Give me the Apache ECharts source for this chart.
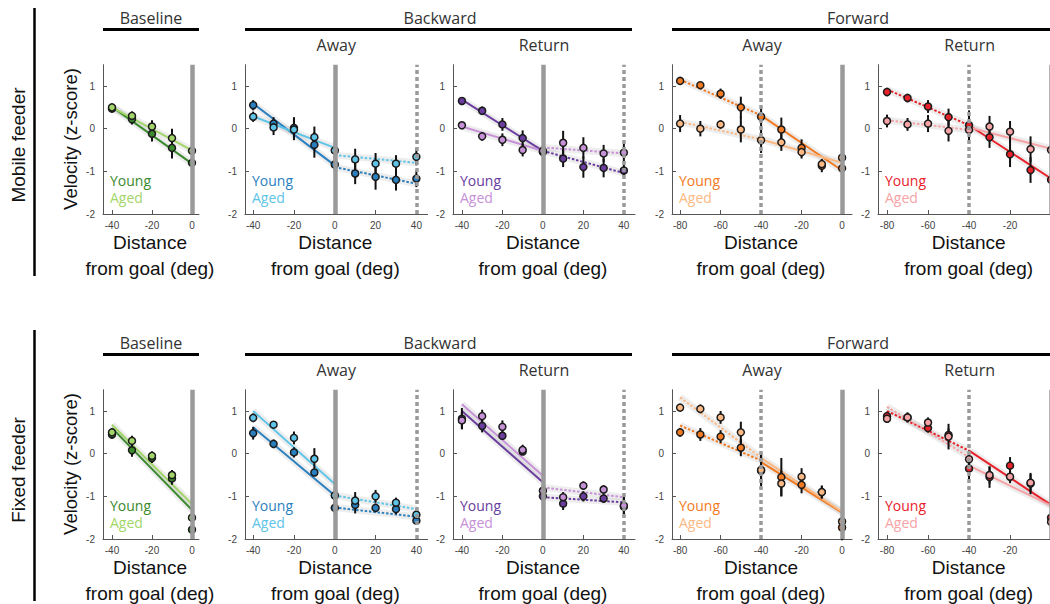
<!DOCTYPE html>
<html>
<head>
<meta charset="utf-8">
<script src="https://cdn.jsdelivr.net/npm/echarts@6/dist/echarts.min.js"></script>
<style>
  html, body { margin: 0; padding: 0; background: #fff; }
  #chart { width: 1050px; height: 604px; }
</style>
</head>
<body>
<div id="chart"></div>
<script>
// ---- sampling distances (deg from goal) ----
const xBaseline = [-40, -30, -20, -10, 0];
const xBackward = [-40, -30, -20, -10, 0, 10, 20, 30, 40];
const xForward = [-80, -70, -60, -50, -40, -30, -20, -10, 0];

// breakpoints of the piecewise regression fits
const fitXBaseline = [-40, 0];
const fitXBackward = [-40, 0, 0, 40];
const fitXForward = [-80, -40, -40, 0];

// tick labels
const tickBaseline = [-40, -20, 0];
const tickBackward = [-40, -20, 0, 20, 40];
const tickForward = [-80, -60, -40, -20, 0];
const tickForwardEdge = [-80, -60, -40, -20];
const tickVelocity = [-2, -1, 0, 1];

// ---- Mobile feeder: velocity (z-score), mean and error ----
const mobBaseYoung = [0.47, 0.22, -0.12, -0.45, -0.8];
const mobBaseYoungErr = [0.07, 0.12, 0.18, 0.25, 0.2];
const mobBaseAged = [0.5, 0.3, 0.05, -0.22, -0.52];
const mobBaseAgedErr = [0.05, 0.1, 0.15, 0.22, 0.2];
const mobBaseFitYoung = [0.51, -0.82];
const mobBaseFitAged = [0.5, -0.51];

const mobBackAwayYoung = [0.55, 0.12, 0.02, -0.38, -0.84, -1.05, -1.13, -1.2, -1.17];
const mobBackAwayYoungErr = [0.12, 0.15, 0.25, 0.3, 0.18, 0.25, 0.3, 0.25, 0.2];
const mobBackAwayAged = [0.28, 0.03, -0.02, -0.2, -0.51, -0.72, -0.82, -0.82, -0.66];
const mobBackAwayAgedErr = [0.12, 0.18, 0.25, 0.25, 0.2, 0.25, 0.25, 0.2, 0.2];
const mobBackAwayFitYoung = [0.59, -0.86, -0.9, -1.29];
const mobBackAwayFitAged = [0.29, -0.45, -0.62, -0.8];

const mobBackRetYoung = [0.65, 0.42, 0.1, -0.22, -0.55, -0.7, -0.9, -0.92, -0.98];
const mobBackRetYoungErr = [0.05, 0.1, 0.15, 0.18, 0.12, 0.2, 0.25, 0.22, 0.2];
const mobBackRetAged = [0.08, -0.18, -0.26, -0.5, -0.52, -0.33, -0.45, -0.58, -0.56];
const mobBackRetAgedErr = [0.08, 0.1, 0.15, 0.15, 0.12, 0.28, 0.25, 0.2, 0.25];
const mobBackRetFitYoung = [0.68, -0.52, -0.52, -1.04];
const mobBackRetFitAged = [0.05, -0.52, -0.44, -0.58];

const mobFwdAwayYoung = [1.12, 1.02, 0.82, 0.5, 0.28, -0.02, -0.45, -0.87, -0.93];
const mobFwdAwayYoungErr = [0.08, 0.08, 0.12, 0.25, 0.25, 0.28, 0.2, 0.15, 0.2];
const mobFwdAwayAged = [0.12, 0.0, 0.1, -0.02, -0.27, -0.32, -0.55, -0.83, -0.68];
const mobFwdAwayAgedErr = [0.2, 0.18, 0.1, 0.3, 0.3, 0.2, 0.15, 0.12, 0.22];
const mobFwdAwayFitYoung = [1.15, 0.31, 0.31, -0.98];
const mobFwdAwayFitAged = [0.16, -0.25, -0.25, -0.8];

const mobFwdRetYoung = [0.86, 0.72, 0.52, 0.27, 0.08, -0.2, -0.6, -0.97, -1.2];
const mobFwdRetYoungErr = [0.1, 0.1, 0.15, 0.2, 0.35, 0.25, 0.3, 0.3, 0.25];
const mobFwdRetAged = [0.18, 0.1, 0.12, -0.05, -0.03, 0.05, -0.07, -0.48, -0.5];
const mobFwdRetAgedErr = [0.15, 0.15, 0.2, 0.25, 0.3, 0.25, 0.25, 0.3, 0.25];
const mobFwdRetFitYoung = [0.92, 0.08, 0.08, -1.17];
const mobFwdRetFitAged = [0.2, -0.03, 0.03, -0.47];

// ---- Fixed feeder ----
const fixBaseYoung = [0.45, 0.08, -0.1, -0.58, -1.78];
const fixBaseYoungErr = [0.1, 0.15, 0.12, 0.15, 0.2];
const fixBaseAged = [0.5, 0.3, -0.05, -0.5, -1.5];
const fixBaseAgedErr = [0.1, 0.12, 0.1, 0.12, 0.15];
const fixBaseFitYoung = [0.6, -1.32];
const fixBaseFitAged = [0.68, -1.18];

const fixBackAwayYoung = [0.48, 0.23, 0.03, -0.44, -1.27, -1.2, -1.27, -1.3, -1.57];
const fixBackAwayYoungErr = [0.15, 0.1, 0.12, 0.08, 0.15, 0.2, 0.1, 0.12, 0.1];
const fixBackAwayAged = [0.84, 0.68, 0.37, -0.12, -0.98, -1.1, -1.0, -1.15, -1.43];
const fixBackAwayAgedErr = [0.1, 0.08, 0.15, 0.25, 0.2, 0.2, 0.15, 0.12, 0.12];
const fixBackAwayFitYoung = [0.62, -0.98, -1.26, -1.48];
const fixBackAwayFitAged = [1.0, -0.71, -0.98, -1.3];

const fixBackRetYoung = [0.82, 0.65, 0.42, 0.05, -1.0, -1.17, -1.0, -1.05, -1.24];
const fixBackRetYoungErr = [0.25, 0.15, 0.1, 0.08, 0.25, 0.15, 0.12, 0.1, 0.25];
const fixBackRetAged = [0.78, 0.88, 0.63, 0.09, -0.87, -1.02, -0.75, -0.84, -1.22];
const fixBackRetAgedErr = [0.2, 0.15, 0.15, 0.12, 0.15, 0.12, 0.1, 0.1, 0.2];
const fixBackRetFitYoung = [1.0, -0.67, -1.02, -1.14];
const fixBackRetFitAged = [1.16, -0.52, -0.79, -1.02];

const fixFwdAwayYoung = [0.5, 0.45, 0.4, 0.14, -0.4, -0.55, -0.73, -0.9, -1.73];
const fixFwdAwayYoungErr = [0.1, 0.15, 0.15, 0.2, 0.45, 0.45, 0.2, 0.15, 0.3];
const fixFwdAwayAged = [1.08, 1.05, 0.85, 0.5, -0.38, -0.7, -0.54, -0.9, -1.59];
const fixFwdAwayAgedErr = [0.08, 0.1, 0.15, 0.25, 0.35, 0.3, 0.2, 0.15, 0.3];
const fixFwdAwayFitYoung = [0.66, -0.16, -0.2, -1.38];
const fixFwdAwayFitAged = [1.32, -0.09, -0.1, -1.36];

const fixFwdRetYoung = [0.88, 0.85, 0.6, 0.44, -0.35, -0.55, -0.28, -0.7, -1.5];
const fixFwdRetYoungErr = [0.1, 0.12, 0.1, 0.15, 0.3, 0.25, 0.2, 0.25, 0.2];
const fixFwdRetAged = [0.82, 0.85, 0.73, 0.4, -0.13, -0.5, -0.54, -0.68, -1.6];
const fixFwdRetAgedErr = [0.1, 0.1, 0.12, 0.3, 0.2, 0.2, 0.15, 0.2, 0.2];
const fixFwdRetFitYoung = [1.0, 0.07, 0.07, -1.2];
const fixFwdRetFitAged = [1.1, -0.08, -0.28, -1.22];

// ---- colours per condition ----
const palBaseline = { young: '#3b8a2e', aged: '#a3d66a' };
const palBackAway = { young: '#2a7fbf', aged: '#5ec4e8' };
const palBackRet = { young: '#6a3d9e', aged: '#c791d8' };
const palFwdAway = { young: '#f27a22', aged: '#fbb985' };
const palFwdRet = { young: '#e8222a', aged: '#f6a3a6' };

// ---- layout ----
const FONT_SANS = '"Liberation Sans", Arial, sans-serif';
const FONT_TITLE = '"Open Sans", "Noto Sans", sans-serif';

const columns = [
  { left: 103, width: 96, min: -44.5, max: 3.5 },
  { left: 245, width: 182.6, min: -44, max: 45.5 },
  { left: 453, width: 182, min: -44.4, max: 45.5 },
  { left: 672, width: 180, min: -84, max: 4.9 },
  { left: 878, width: 183.3, min: -84.4, max: 5 }
];
const rows = [
  { top: 64.7, height: 149.3, offset: 0 },
  { top: 389.7, height: 149.3, offset: 325 }
];

const kinds = {
  baseline: { x: xBaseline, fitX: fitXBaseline, ticks: tickBaseline,
              segs: [[0, 1, 'solid']], refs: [[0, 'solid']] },
  backward: { x: xBackward, fitX: fitXBackward, ticks: tickBackward,
              segs: [[0, 1, 'solid'], [2, 3, 'dotted']], refs: [[0, 'solid'], [40, 'dashed']] },
  forward:  { x: xForward, fitX: fitXForward, ticks: tickForward,
              segs: [[0, 1, 'dotted'], [2, 3, 'solid']], refs: [[-40, 'dashed'], [0, 'solid']] }
};

const panels = [
  { row: 0, col: 0, kind: 'baseline', pal: palBaseline,
    young: mobBaseYoung, youngErr: mobBaseYoungErr, aged: mobBaseAged, agedErr: mobBaseAgedErr,
    fitYoung: mobBaseFitYoung, fitAged: mobBaseFitAged },
  { row: 0, col: 1, kind: 'backward', pal: palBackAway,
    young: mobBackAwayYoung, youngErr: mobBackAwayYoungErr, aged: mobBackAwayAged, agedErr: mobBackAwayAgedErr,
    fitYoung: mobBackAwayFitYoung, fitAged: mobBackAwayFitAged },
  { row: 0, col: 2, kind: 'backward', pal: palBackRet,
    young: mobBackRetYoung, youngErr: mobBackRetYoungErr, aged: mobBackRetAged, agedErr: mobBackRetAgedErr,
    fitYoung: mobBackRetFitYoung, fitAged: mobBackRetFitAged },
  { row: 0, col: 3, kind: 'forward', pal: palFwdAway,
    young: mobFwdAwayYoung, youngErr: mobFwdAwayYoungErr, aged: mobFwdAwayAged, agedErr: mobFwdAwayAgedErr,
    fitYoung: mobFwdAwayFitYoung, fitAged: mobFwdAwayFitAged },
  { row: 0, col: 4, kind: 'forward', pal: palFwdRet, labels: tickForwardEdge,
    young: mobFwdRetYoung, youngErr: mobFwdRetYoungErr, aged: mobFwdRetAged, agedErr: mobFwdRetAgedErr,
    fitYoung: mobFwdRetFitYoung, fitAged: mobFwdRetFitAged },
  { row: 1, col: 0, kind: 'baseline', pal: palBaseline,
    young: fixBaseYoung, youngErr: fixBaseYoungErr, aged: fixBaseAged, agedErr: fixBaseAgedErr,
    fitYoung: fixBaseFitYoung, fitAged: fixBaseFitAged },
  { row: 1, col: 1, kind: 'backward', pal: palBackAway,
    young: fixBackAwayYoung, youngErr: fixBackAwayYoungErr, aged: fixBackAwayAged, agedErr: fixBackAwayAgedErr,
    fitYoung: fixBackAwayFitYoung, fitAged: fixBackAwayFitAged },
  { row: 1, col: 2, kind: 'backward', pal: palBackRet,
    young: fixBackRetYoung, youngErr: fixBackRetYoungErr, aged: fixBackRetAged, agedErr: fixBackRetAgedErr,
    fitYoung: fixBackRetFitYoung, fitAged: fixBackRetFitAged },
  { row: 1, col: 3, kind: 'forward', pal: palFwdAway,
    young: fixFwdAwayYoung, youngErr: fixFwdAwayYoungErr, aged: fixFwdAwayAged, agedErr: fixFwdAwayAgedErr,
    fitYoung: fixFwdAwayFitYoung, fitAged: fixFwdAwayFitAged },
  { row: 1, col: 4, kind: 'forward', pal: palFwdRet, labels: tickForwardEdge,
    young: fixFwdRetYoung, youngErr: fixFwdRetYoungErr, aged: fixFwdRetAged, agedErr: fixFwdRetAgedErr,
    fitYoung: fixFwdRetFitYoung, fitAged: fixFwdRetFitAged }
];

const grid = [], xAxis = [], yAxis = [], series = [], graphic = [];

const axisLineStyle = { color: '#555', width: 1 };

panels.forEach((p, i) => {
  const k = kinds[p.kind];
  const c = columns[p.col];
  const r = rows[p.row];
  grid.push({ left: c.left, width: c.width, top: r.top, height: r.height,
              containLabel: false, outerBoundsMode: 'none' });
  xAxis.push({
    type: 'value', gridIndex: i, min: c.min, max: c.max,
    splitLine: { show: false },
    axisLine: { onZero: false, lineStyle: axisLineStyle },
    axisTick: { inside: true, length: 4, customValues: k.ticks, lineStyle: axisLineStyle },
    axisLabel: { customValues: p.labels || k.ticks, fontSize: 10, color: '#444',
                 fontFamily: FONT_SANS, margin: 6 }
  });
  yAxis.push({
    type: 'value', gridIndex: i, min: -2, max: 1.5,
    splitLine: { show: false },
    axisLine: { show: true, onZero: false, lineStyle: axisLineStyle },
    axisTick: { show: true, inside: true, length: 4, customValues: tickVelocity, lineStyle: axisLineStyle },
    axisLabel: { customValues: tickVelocity, fontSize: 10, color: '#444', fontFamily: FONT_SANS, margin: 8 }
  });

  // reference lines (goal / turn-around positions)
  const refData = k.refs.map(([xv, style]) => ({
    xAxis: xv,
    lineStyle: style === 'solid'
      ? { color: '#9a9a9a', width: 4.5, type: 'solid' }
      : { color: '#9a9a9a', width: 3.5, type: [4, 3] }
  }));

  const groups = [
    { name: 'Young', mean: p.young, err: p.youngErr, fit: p.fitYoung, color: p.pal.young },
    { name: 'Aged', mean: p.aged, err: p.agedErr, fit: p.fitAged, color: p.pal.aged }
  ];

  groups.forEach((g, gi) => {
    k.segs.forEach(([a, b, style], si) => {
      const segData = [[k.fitX[a], g.fit[a]], [k.fitX[b], g.fit[b]]];
      // confidence band
      const band = {
        type: 'line', xAxisIndex: i, yAxisIndex: i, z: 1, silent: true, animation: false,
        symbol: 'none', data: segData,
        lineStyle: { color: 'rgba(140,140,140,0.16)', width: 7 }
      };
      if (gi === 0 && si === 0) {
        band.markLine = { silent: true, animation: false, symbol: ['none', 'none'],
                          label: { show: false }, data: refData };
      }
      series.push(band);
      // fitted line
      series.push({
        type: 'line', xAxisIndex: i, yAxisIndex: i, z: 2, silent: true, animation: false,
        symbol: 'none', data: segData,
        lineStyle: { color: g.color, width: 2, type: style === 'solid' ? 'solid' : [2.5, 1.8] }
      });
    });

    // error bars
    series.push({
      type: 'custom', xAxisIndex: i, yAxisIndex: i, z: 3, silent: true, animation: false,
      data: k.x.map((xv, j) => [xv, g.mean[j] - g.err[j], g.mean[j] + g.err[j]]),
      encode: { x: 0, y: [1, 2] },
      renderItem: (params, api) => {
        const lo = api.coord([api.value(0), api.value(1)]);
        const hi = api.coord([api.value(0), api.value(2)]);
        return { type: 'line', shape: { x1: lo[0], y1: lo[1], x2: hi[0], y2: hi[1] },
                 style: { stroke: '#111', lineWidth: 2 } };
      }
    });

    // means
    series.push({
      type: 'scatter', name: g.name, xAxisIndex: i, yAxisIndex: i, z: 4, silent: true, animation: false,
      symbol: 'circle', symbolSize: 7,
      data: k.x.map((xv, j) => [xv, g.mean[j]]),
      itemStyle: { color: g.color, borderColor: '#1a1a1a', borderWidth: 1.5, opacity: 1 }
    });
  });

  // group labels inside the panel
  const lx = c.left + 7;
  graphic.push({ type: 'text', left: lx, top: 172 + r.offset, silent: true,
    style: { text: 'Young', fill: p.pal.young, font: '14px ' + FONT_TITLE, lineHeight: 16 } });
  graphic.push({ type: 'text', left: lx, top: 189.5 + r.offset, silent: true,
    style: { text: 'Aged', fill: p.pal.aged, font: '14px ' + FONT_TITLE, lineHeight: 16 } });

  // x-axis title
  const cx = c.left + c.width / 2 - 1;
  graphic.push({ type: 'text', x: cx, y: 242 + r.offset, silent: true,
    style: { text: 'Distance', fill: '#111', font: '19px ' + FONT_SANS, align: 'center', verticalAlign: 'middle' } });
  graphic.push({ type: 'text', x: cx, y: 268 + r.offset, silent: true,
    style: { text: 'from goal (deg)', fill: '#111', font: '19px ' + FONT_SANS, align: 'center', verticalAlign: 'middle' } });
});

// headers, brackets and row labels
rows.forEach((r, ri) => {
  const o = r.offset;
  const header = (text, x, y) => graphic.push({ type: 'text', x, y, silent: true,
    style: { text, fill: '#333', font: '16px ' + FONT_TITLE, align: 'center', verticalAlign: 'middle' } });
  const bar = (x1, x2, y) => graphic.push({ type: 'line', silent: true,
    shape: { x1, y1: y, x2, y2: y }, style: { stroke: '#000', lineWidth: 3 } });

  header('Baseline', 151, 18 + o);
  bar(103, 199, 29.5 + o);
  header('Backward', 440, 18 + o);
  bar(245, 632, 29.5 + o);
  header('Forward', 858, 18 + o);
  bar(672, 1050, 29.5 + o);
  header('Away', columns[1].left + columns[1].width / 2, 45 + o);
  header('Return', columns[2].left + columns[2].width / 2, 45 + o);
  header('Away', columns[3].left + columns[3].width / 2, 45 + o);
  header('Return', columns[4].left + columns[4].width / 2, 45 + o);

  // row bracket
  graphic.push({ type: 'line', silent: true,
    shape: { x1: 34.5, y1: (ri === 0 ? 8 : 330), x2: 34.5, y2: (ri === 0 ? 276 : 601) },
    style: { stroke: '#000', lineWidth: 2.5 } });
  graphic.push({ type: 'text', x: 18, y: 145 + o, rotation: Math.PI / 2, silent: true,
    style: { text: ri === 0 ? 'Mobile feeder' : 'Fixed feeder', fill: '#111', font: '19px ' + FONT_SANS,
             align: 'center', verticalAlign: 'middle' } });
  graphic.push({ type: 'text', x: 70, y: 139 + o, rotation: Math.PI / 2, silent: true,
    style: { text: 'Velocity (z-score)', fill: '#111', font: '18.5px ' + FONT_SANS,
             align: 'center', verticalAlign: 'middle' } });
});

const chart = echarts.init(document.getElementById('chart'), null, { renderer: 'svg' });
chart.setOption({
  animation: false,
  backgroundColor: '#fff',
  grid, xAxis, yAxis, series, graphic
});
</script>
</body>
</html>
